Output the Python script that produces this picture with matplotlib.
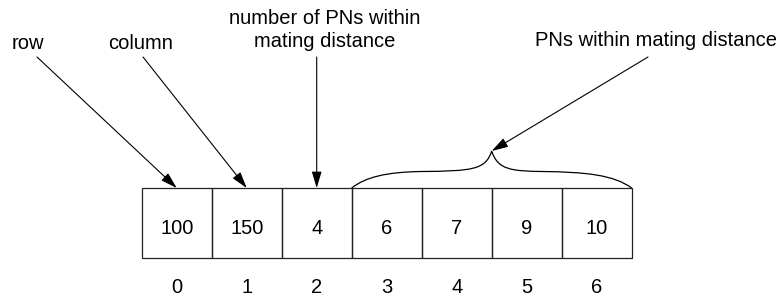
import matplotlib.pyplot as plt
from matplotlib.patches import Rectangle, PathPatch
from matplotlib.path import Path

plt.rcParams['font.family'] = ['Liberation Sans', 'DejaVu Sans']

# --- data ---
cell_values = [100, 150, 4, 6, 7, 9, 10]
cell_index = [0, 1, 2, 3, 4, 5, 6]
callouts = ["row", "column", "number of PNs within\nmating distance"]
callout_cells = [0, 1, 2]
list_label = "PNs within mating distance"
list_cells = [3, 6]   # first and last cell under the brace

# layout (pixel coords, y down)
x0, cw = 141.7, 70
top, h = 188, 70
fs = 14.5

fig = plt.figure(figsize=(7.84, 2.99), dpi=100)
ax = fig.add_axes([0, 0, 1, 1])
ax.set_xlim(0, 784)
ax.set_ylim(299, 0)
ax.axis('off')

def cell_center(i):
    return x0 + (i + 0.5) * cw

# cells + values + index labels
for i, v in zip(cell_index, cell_values):
    ax.add_patch(Rectangle((x0 + i * cw, top), cw, h, fill=False, ec='#222222', lw=0.9))
    ax.text(cell_center(i), 234, str(v), ha='center', va='baseline', fontsize=fs)
    ax.text(cell_center(i), 293, str(i), ha='center', va='baseline', fontsize=fs)

arrow = dict(arrowstyle='-|>,head_length=0.5,head_width=0.15', color='black',
             lw=0.8, shrinkA=0, shrinkB=0, mutation_scale=20)

# callout texts with arrows
text_pos = [(28, 49), (141, 49), (325, 47)]
arrow_start = [(37, 57), (143, 57), (316.7, 57)]
for label, c, (tx, ty), start in zip(callouts, callout_cells, text_pos, arrow_start):
    lines = label.split("\n")
    for k, line in enumerate(reversed(lines)):
        ax.text(tx, ty - 23 * k, line, ha='center', va='baseline', fontsize=fs)
    ax.annotate('', xy=(cell_center(c), top), xytext=start, arrowprops=arrow)

# brace over the PN list
bl = x0 + list_cells[0] * cw
br = x0 + (list_cells[1] + 1) * cw
bm = (bl + br) / 2
verts = [
    (bl, top),
    (bl + 14, 177), (bl + 35, 172), (bl + 70, 171.5),
    (bm - 20, 171), (bm - 6, 170), (bm, 151),
    (bm + 6, 170), (bm + 20, 171), (bm + 50, 171.5),
    (br - 45, 172), (br - 18, 175), (br, top),
]
codes = [Path.MOVETO] + [Path.CURVE4] * 12
ax.add_patch(PathPatch(Path(verts, codes), fill=False, ec='black', lw=0.9))

ax.text(656, 46.5, list_label, ha='center', va='baseline', fontsize=fs)
ax.annotate('', xy=(bm, 151), xytext=(648, 57), arrowprops=arrow)

fig.savefig('out.png', dpi=100)
